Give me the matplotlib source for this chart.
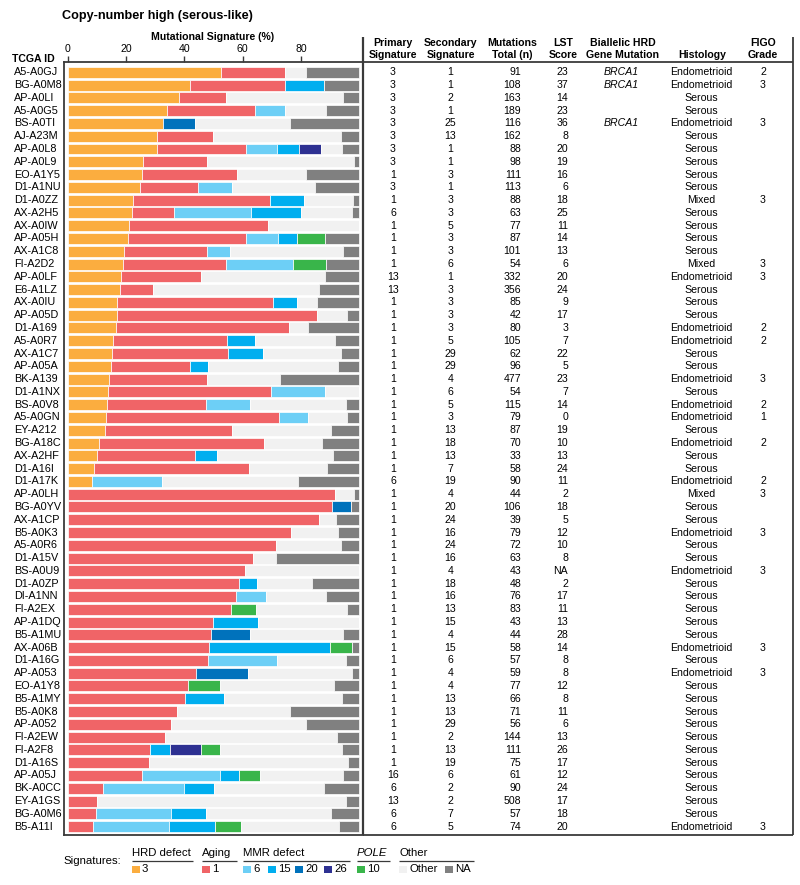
import matplotlib
matplotlib.use("Agg")
import matplotlib.pyplot as plt
from matplotlib.patches import Rectangle
from matplotlib.lines import Line2D
from matplotlib.transforms import blended_transform_factory
import numpy as np

plt.rcParams['font.family'] = ['Liberation Sans', 'DejaVu Sans']

# ---------------- data ----------------
tcga_ids = ["A5-A0GJ", "BG-A0M8", "AP-A0LI", "A5-A0G5", "BS-A0TI", "AJ-A23M", "AP-A0L8", "AP-A0L9",
            "EO-A1Y5", "D1-A1NU", "D1-A0ZZ", "AX-A2H5", "AX-A0IW", "AP-A05H", "AX-A1C8", "FI-A2D2",
            "AP-A0LF", "E6-A1LZ", "AX-A0IU", "AP-A05D", "D1-A169", "A5-A0R7", "AX-A1C7", "AP-A05A",
            "BK-A139", "D1-A1NX", "BS-A0V8", "A5-A0GN", "EY-A212", "BG-A18C", "AX-A2HF", "D1-A16I",
            "D1-A17K", "AP-A0LH", "BG-A0YV", "AX-A1CP", "B5-A0K3", "A5-A0R6", "D1-A15V", "BS-A0U9",
            "D1-A0ZP", "DI-A1NN", "FI-A2EX", "AP-A1DQ", "B5-A1MU", "AX-A06B", "D1-A16G", "AP-A053",
            "EO-A1Y8", "B5-A1MY", "B5-A0K8", "AP-A052", "FI-A2EW", "FI-A2F8", "D1-A16S", "AP-A05J",
            "BK-A0CC", "EY-A1GS", "BG-A0M6", "B5-A11I"]

# signature contributions (%)
sig3 = [52.6, 41.8, 38.2, 34.2, 32.8, 30.6, 30.6, 25.7, 25.4, 24.9, 22.5, 22.1, 20.9, 20.8, 19.4,
        19.0, 18.3, 17.8, 16.9, 16.8, 16.5, 15.7, 15.1, 14.9, 14.1, 13.8, 13.4, 13.1, 12.9, 10.7,
        9.9, 8.9, 8.5, 0, 0, 0, 0, 0, 0, 0, 0, 0, 0, 0, 0,
        0, 0, 0, 0, 0, 0, 0, 0, 0, 0, 0, 0, 0, 0, 0]
sig1 = [21.9, 32.7, 16.0, 30.1, 0, 19.4, 30.5, 22.2, 32.6, 19.7, 47.0, 14.4, 47.8, 40.3, 28.3,
        35.3, 27.4, 11.5, 53.6, 68.6, 59.3, 38.9, 39.8, 27.0, 33.8, 55.9, 33.9, 59.3, 43.5, 56.6,
        33.7, 53.3, 0, 91.7, 90.5, 86.2, 76.5, 71.5, 63.7, 60.8, 58.9, 57.7, 55.9, 49.7, 49.1,
        48.5, 48.3, 44.0, 41.4, 40.2, 37.6, 35.5, 33.3, 28.2, 28.0, 25.4, 12.0, 10.2, 9.8, 8.7]
sig6 = [0, 0, 0, 10.1, 0, 0, 10.6, 0, 0, 11.9, 0, 26.3, 0, 11.1, 8.1,
        23.1, 0, 0, 0, 0, 0, 0, 0, 0, 0, 18.6, 15.3, 10.1, 0, 0,
        0, 0, 23.9, 0, 0, 0, 0, 0, 0, 0, 0, 10.3, 0, 0, 0,
        0, 23.4, 0, 0, 0, 0, 0, 0, 0, 0, 27.0, 28.0, 0, 25.5, 26.2]
sig15 = [0, 13.3, 0, 0, 0, 0, 7.5, 0, 0, 0, 11.5, 17.1, 0, 6.6, 0,
         0, 0, 0, 8.0, 0, 0, 9.5, 12.0, 6.3, 0, 0, 0, 0, 0, 0,
         7.5, 0, 0, 0, 0, 0, 0, 0, 0, 0, 5.9, 0, 0, 15.7, 0,
         41.5, 0, 0, 0, 13.3, 0, 0, 0, 7.0, 0, 6.4, 10.3, 0, 12.1, 15.7]
sig20 = [0, 0, 0, 0, 11.0, 0, 0, 0, 0, 0, 0, 0, 0, 0, 0,
         0, 0, 0, 0, 0, 0, 0, 0, 0, 0, 0, 0, 0, 0, 0,
         0, 0, 0, 0, 6.7, 0, 0, 0, 0, 0, 0, 0, 0, 0, 13.3,
         0, 0, 17.7, 0, 0, 0, 0, 0, 0, 0, 0, 0, 0, 0, 0]
sig26 = [0, 0, 0, 0, 0, 0, 7.7, 0, 0, 0, 0, 0, 0, 0, 0,
         0, 0, 0, 0, 0, 0, 0, 0, 0, 0, 0, 0, 0, 0, 0,
         0, 0, 0, 0, 0, 0, 0, 0, 0, 0, 0, 0, 0, 0, 0,
         0, 0, 0, 0, 0, 0, 0, 0, 10.4, 0, 0, 0, 0, 0, 0]
sig10 = [0, 0, 0, 0, 0, 0, 0, 0, 0, 0, 0, 0, 0, 9.6, 0,
         11.1, 0, 0, 0, 0, 0, 0, 0, 0, 0, 0, 0, 0, 0, 0,
         0, 0, 0, 0, 0, 0, 0, 0, 0, 0, 0, 0, 8.6, 0, 0,
         7.4, 0, 0, 10.9, 0, 0, 0, 0, 6.7, 0, 7.0, 0, 0, 0, 9.0]
other = [7.1, 0, 40.3, 14.3, 32.6, 43.8, 7.1, 50.3, 23.8, 28.5, 16.9, 17.5, 31.3, 0, 38.6,
         0, 42.6, 56.9, 7.1, 10.5, 6.7, 27.7, 27.0, 44.6, 25.1, 11.7, 32.8, 13.4, 33.8, 20.1,
         39.9, 26.9, 46.5, 6.5, 0, 5.9, 16.1, 22.3, 7.9, 39.2, 19.0, 20.5, 31.4, 34.6, 32.2,
         0, 23.8, 36.0, 39.2, 40.7, 38.7, 46.4, 59.2, 41.8, 68.3, 28.5, 37.6, 85.4, 42.9, 33.4]
na = [18.4, 12.2, 5.5, 11.4, 23.7, 6.2, 5.9, 1.8, 18.3, 15.1, 2.1, 2.6, 0, 11.5, 5.5,
      11.5, 11.7, 13.7, 14.4, 4.1, 17.5, 8.3, 6.2, 7.3, 27.0, 0, 4.6, 4.1, 9.7, 12.6,
      8.9, 11.0, 21.1, 1.8, 2.7, 7.9, 7.4, 6.2, 28.5, 0, 16.2, 11.5, 4.1, 0, 5.4,
      2.6, 4.5, 2.3, 8.6, 5.8, 23.7, 18.1, 7.5, 5.8, 3.7, 5.8, 12.1, 4.5, 9.7, 7.1]

primary_sig = [3, 3, 3, 3, 3, 3, 3, 3, 1, 3, 1, 6, 1, 1, 1, 1, 13, 13, 1, 1,
               1, 1, 1, 1, 1, 1, 1, 1, 1, 1, 1, 1, 6, 1, 1, 1, 1, 1, 1, 1,
               1, 1, 1, 1, 1, 1, 1, 1, 1, 1, 1, 1, 1, 1, 1, 16, 6, 13, 6, 6]
secondary_sig = [1, 1, 2, 1, 25, 13, 1, 1, 3, 1, 3, 3, 5, 3, 3, 6, 1, 3, 3, 3,
                 3, 5, 29, 29, 4, 6, 5, 3, 13, 18, 13, 7, 19, 4, 20, 24, 16, 24, 16, 4,
                 18, 16, 13, 15, 4, 15, 6, 4, 4, 13, 13, 29, 2, 13, 19, 6, 2, 2, 7, 5]
mutations = [91, 108, 163, 189, 116, 162, 88, 98, 111, 113, 88, 63, 77, 87, 101, 54, 332, 356, 85, 42,
             80, 105, 62, 96, 477, 54, 115, 79, 87, 70, 33, 58, 90, 44, 106, 39, 79, 72, 63, 43,
             48, 76, 83, 43, 44, 58, 57, 59, 77, 66, 71, 56, 144, 111, 75, 61, 90, 508, 57, 74]
lst_score = ["23", "37", "14", "23", "36", "8", "20", "19", "16", "6", "18", "25", "11", "14", "13",
             "6", "20", "24", "9", "17", "3", "7", "22", "5", "23", "7", "14", "0", "19", "10",
             "13", "24", "11", "2", "18", "5", "12", "10", "8", "NA", "2", "17", "11", "13", "28",
             "14", "8", "8", "12", "8", "11", "6", "13", "26", "17", "12", "24", "17", "18", "20"]
hrd_gene = ["BRCA1", "BRCA1", "", "", "BRCA1"] + [""] * 55
histology = ["Endometrioid", "Endometrioid", "Serous", "Serous", "Endometrioid", "Serous", "Serous",
             "Serous", "Serous", "Serous", "Mixed", "Serous", "Serous", "Serous", "Serous", "Mixed",
             "Endometrioid", "Serous", "Serous", "Serous", "Endometrioid", "Endometrioid", "Serous",
             "Serous", "Endometrioid", "Serous", "Endometrioid", "Endometrioid", "Serous",
             "Endometrioid", "Serous", "Serous", "Endometrioid", "Mixed", "Serous", "Serous",
             "Endometrioid", "Serous", "Serous", "Endometrioid", "Serous", "Serous", "Serous",
             "Serous", "Serous", "Endometrioid", "Serous", "Endometrioid", "Serous", "Serous",
             "Serous", "Serous", "Serous", "Serous", "Serous", "Serous", "Serous", "Serous",
             "Serous", "Endometrioid"]
figo = ["2", "3", "", "", "3", "", "", "", "", "", "3", "", "", "", "", "3", "3", "", "", "",
        "2", "2", "", "", "3", "", "2", "1", "", "2", "", "", "2", "3", "", "", "3", "", "", "3",
        "", "", "", "", "", "3", "", "3", "", "", "", "", "", "", "", "", "", "", "", "3"]

sig_names = ["3", "1", "6", "15", "20", "26", "10", "Other", "NA"]
sig_colors = ["#FBAD3F", "#F06467", "#6DCFF6", "#00AEEF", "#0072BC", "#2E3192", "#39B54A",
              "#F1F1F1", "#808080"]
sig_values = [sig3, sig1, sig6, sig15, sig20, sig26, sig10, other, na]

# ---------------- layout helpers ----------------
W, H = 800, 885
fig = plt.figure(figsize=(W / 100, H / 100), dpi=100)
def fx(x): return x / W
def fy(y): return 1 - y / H

LINE_C = "#3a3a3a"
FS = 7.6

ax = fig.add_axes([fx(64), fy(834.5), fx(362.7) - fx(64), fy(62) - fy(834.5)])
n = len(tcga_ids)
rows = np.arange(n)
left = np.zeros(n)
for name, vals, col in zip(sig_names, sig_values, sig_colors):
    v = np.array(vals, dtype=float)
    ax.barh(rows, v, left=left, height=0.86, color=col, edgecolor="white", linewidth=0.5)
    left += v
ax.set_ylim(59.62, -0.805)
ax.set_xlim(-1.27, 101.2)
ax.xaxis.tick_top()
ax.set_xticks([0, 20, 40, 60, 80])
ax.tick_params(axis="x", direction="out", length=4, width=1.0, labelsize=FS, pad=1.5,
               color=LINE_C)
ax.set_yticks([])
for s in ax.spines.values():
    s.set_color(LINE_C)
    s.set_linewidth(1.3)
ax.spines["right"].set_visible(False)

tr = blended_transform_factory(fig.transFigure, ax.transData)

# row labels
for i, t in enumerate(tcga_ids):
    ax.text(fx(14), i, t, transform=tr, ha="left", va="center", fontsize=FS + 0.2, clip_on=False)

# table
col_x = {"prim": 393, "sec": 450.5, "mut": 521, "lst": 568, "hrd": 621, "hist": 701.5, "figo": 763}
for i in range(n):
    ax.text(fx(col_x["prim"]), i, str(primary_sig[i]), transform=tr, ha="center", va="center", fontsize=FS)
    ax.text(fx(col_x["sec"]), i, str(secondary_sig[i]), transform=tr, ha="center", va="center", fontsize=FS)
    ax.text(fx(col_x["mut"]), i, str(mutations[i]), transform=tr, ha="right", va="center", fontsize=FS)
    ax.text(fx(col_x["lst"]), i, lst_score[i], transform=tr, ha="right", va="center", fontsize=FS)
    if hrd_gene[i]:
        ax.text(fx(col_x["hrd"]), i, hrd_gene[i], transform=tr, ha="center", va="center",
                fontsize=FS, style="italic")
    ax.text(fx(col_x["hist"]), i, histology[i], transform=tr, ha="center", va="center", fontsize=FS)
    if figo[i]:
        ax.text(fx(col_x["figo"]), i, figo[i], transform=tr, ha="center", va="center", fontsize=FS)

# headers
def ftxt(x, y, s, **kw):
    kw.setdefault("fontsize", FS)
    kw.setdefault("va", "center")
    fig.text(fx(x), fy(y), s, **kw)

ftxt(62, 16, "Copy-number high (serous-like)", fontsize=9.1, fontweight="bold", ha="left")
ftxt(213, 37.5, "Mutational Signature (%)", fontweight="bold", ha="center")
ftxt(12.5, 59, "TCGA ID", fontweight="bold", ha="left")
headers = [(393, "Primary", "Signature"), (451, "Secondary", "Signature"),
           (512, "Mutations", "Total (n)"), (563, "LST", "Score"),
           (623, "Biallelic HRD", "Gene Mutation"), (702, "", "Histology"), (763, "FIGO", "Grade")]
for x, l1, l2 in headers:
    if l1:
        ftxt(x, 43.5, l1, fontweight="bold", ha="center")
    ftxt(x, 55.5, l2, fontweight="bold", ha="center")

# frame lines
def fline(x0, y0, x1, y1, lw=1.3):
    fig.add_artist(Line2D([fx(x0), fx(x1)], [fy(y0), fy(y1)], transform=fig.transFigure,
                          color=LINE_C, lw=lw, solid_capstyle="butt"))
fline(362.7, 37, 362.7, 835.2, lw=1.6)
fline(793, 37, 793, 835.2, lw=1.3)
fline(362.7, 62, 793, 62)
fline(362.7, 834.5, 793, 834.5)

# legend
LFS = 8.2
ftxt(63, 861, "Signatures:", ha="left", fontsize=LFS)
groups = [(132, 193, "HRD defect", "normal"), (202, 237, "Aging", "normal"),
          (243, 350, "MMR defect", "normal"), (357, 390, "POLE", "italic"),
          (399, 474, "Other", "normal")]
for x0, x1, lab, st in groups:
    ftxt(x0, 852.5, lab, ha="left", style=st, fontsize=LFS)
    fline(x0, 861, x1, 861, lw=0.9)
leg_items = [(132, "3", 0), (202, "1", 1), (243, "6", 2), (268, "15", 3), (295, "20", 4),
             (324, "26", 5), (357, "10", 6), (399, "Other", 7), (445, "NA", 8)]
for x, lab, ci in leg_items:
    fig.add_artist(Rectangle((fx(x), fy(873)), 7.5 / W, 7.5 / H, transform=fig.transFigure,
                             facecolor=sig_colors[ci], edgecolor="none"))
    ftxt(x + 10, 869, lab, ha="left", fontsize=LFS)

fig.savefig("out.png", dpi=100)
